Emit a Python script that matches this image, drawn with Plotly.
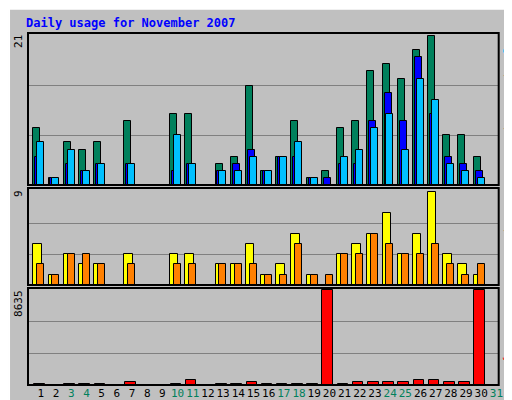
import plotly.graph_objects as go

days = list(range(1, 32))
hits = [8, 1, 6, 5, 6, 0, 9, 0, 0, 10, 10, 0, 3, 4, 14, 2, 4, 9, 1, 2, 8, 9, 16, 17, 15, 19, 21, 7, 7, 4, 0]
files = [4, 1, 3, 2, 3, 0, 3, 0, 0, 2, 3, 0, 2, 3, 5, 2, 4, 4, 1, 1, 3, 3, 9, 13, 9, 18, 10, 4, 3, 2, 0]
pages = [6, 1, 5, 2, 3, 0, 3, 0, 0, 7, 3, 0, 2, 2, 4, 2, 4, 6, 1, 0, 4, 5, 8, 10, 5, 15, 12, 3, 2, 1, 0]
visits = [4, 1, 3, 2, 2, 0, 3, 0, 0, 3, 3, 0, 2, 2, 4, 1, 2, 5, 1, 0, 3, 4, 5, 7, 3, 5, 9, 3, 2, 1, 0]
sites = [2, 1, 3, 3, 2, 0, 2, 0, 0, 2, 2, 0, 2, 2, 2, 1, 1, 4, 1, 1, 3, 3, 5, 4, 3, 3, 4, 2, 1, 2, 0]
kbytes = [100, 0, 100, 100, 100, 0, 300, 0, 0, 100, 420, 0, 100, 100, 300, 100, 100, 100, 100, 8635,
          100, 300, 300, 300, 300, 420, 420, 300, 300, 8600, 0]
weekend = [3, 4, 10, 11, 17, 18, 24, 25, 31]

C_HITS, C_FILES, C_PAGES = "#00805C", "#0000FF", "#00C0FF"
C_VISITS, C_SITES, C_KB = "#FFFF00", "#FF8000", "#FF0000"
MONO = "DejaVu Sans Mono"

fig = go.Figure()


def bars(y, color, off, width, yaxis):
    fig.add_trace(go.Bar(x=days, y=y, offset=off, width=width, marker_color=color,
                         marker_line=dict(color="black", width=1), yaxis=yaxis, xaxis="x",
                         showlegend=False, hoverinfo="skip"))


bars(hits, C_HITS, -0.5, 0.46, "y")
bars(files, C_FILES, -0.37, 0.46, "y")
bars(pages, C_PAGES, -0.24, 0.46, "y")
bars(visits, C_VISITS, -0.5, 0.55, "y2")
bars(sites, C_SITES, -0.24, 0.46, "y2")
bars(kbytes, C_KB, -0.46, 0.7, "y3")

ticktext = [f"<span style='color:{'#00805C' if d in weekend else 'black'}'>{d}</span>" for d in days]

xd = [20 / 512, 490.7 / 512]
fig.update_layout(
    width=512, height=400, margin=dict(l=0, r=0, t=0, b=0),
    paper_bgcolor="#C0C0C0", plot_bgcolor="#C0C0C0", barmode="overlay", bargap=0,
    xaxis=dict(domain=xd, range=[0.15, 31.15], tickmode="array", tickvals=days, ticktext=ticktext,
               tickfont=dict(family=MONO, size=11), ticks="", anchor="y3", tickangle=0,
               automargin=False, showline=False, showgrid=False, zeroline=False),
)
panels = [("yaxis", [0.5575, 0.9375], 21 * 1.02, 21),
          ("yaxis2", [0.3075, 0.55], 9 * 1.047, 9),
          ("yaxis3", [0.0575, 0.3], 8635 * 1.018, 8635)]
for name, dom, top, mx in panels:
    fig.update_layout(**{name: dict(domain=dom, range=[0, top], tickvals=[mx / 3, 2 * mx / 3],
                                    showticklabels=False, gridcolor="#808080", gridwidth=1,
                                    zeroline=False, ticks="", automargin=False)})
    # panel frame
    fig.add_shape(type="rect", xref="paper", yref="paper", x0=xd[0], x1=xd[1], y0=dom[0], y1=dom[1],
                  line=dict(color="black", width=2), layer="above")
    fig.add_annotation(text=str(mx), xref="paper", yref="paper", x=xd[0] - 0.002, y=dom[1],
                       xanchor="right", yanchor="top", textangle=-90, showarrow=False,
                       font=dict(family=MONO, size=11, color="black"))

# outer 3D frame
fig.add_shape(type="rect", xref="paper", yref="paper", x0=0.002, x1=0.994, y0=0.006, y1=0.998,
              line=dict(color="white", width=2))
fig.add_shape(type="line", xref="paper", yref="paper", x0=0.994, x1=0.994, y0=0, y1=1,
              line=dict(color="#808080", width=5))
fig.add_shape(type="line", xref="paper", yref="paper", x0=0, x1=1, y0=0.006, y1=0.006,
              line=dict(color="#808080", width=5))

fig.add_annotation(text="<b>Daily usage for November 2007</b>", xref="paper", yref="paper",
                   x=16 / 512, y=1 - 6 / 400, xanchor="left", yanchor="top", showarrow=False,
                   font=dict(family=MONO, size=12, color="#0000FF"))

legends = [([("Pages", C_PAGES), ("Files", C_FILES), ("Hits", C_HITS)], 0.9375, "top"),
           ([("Sites", C_SITES), ("Visits", C_VISITS)], 0.3075, "bottom"),
           ([("KBytes", C_KB)], 0.0575, "bottom")]
for items, ypos, anchor in legends:
    txt = "<span style='color:black'> / </span>".join(
        f"<span style='color:{c}'>{t}</span>" for t, c in items)
    fig.add_annotation(text=txt, xref="paper", yref="paper", x=xd[1] + 0.003, y=ypos,
                       xanchor="left", yanchor=anchor, textangle=90, showarrow=False,
                       font=dict(family=MONO, size=11))

fig.write_html("out.html")
